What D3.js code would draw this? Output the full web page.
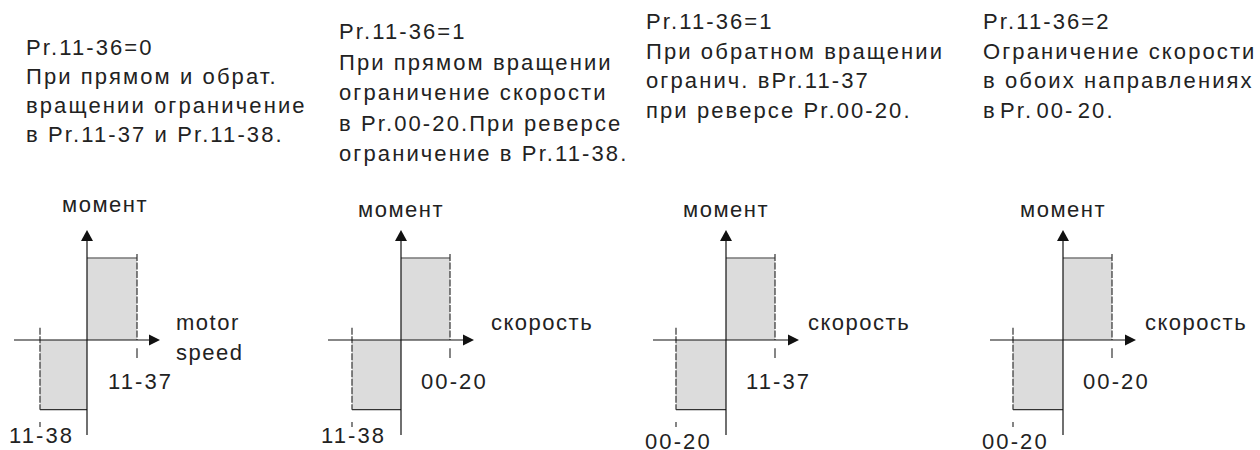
<!DOCTYPE html>
<html>
<head>
<meta charset="utf-8">
<script src="https://cdn.jsdelivr.net/npm/d3@7"></script>
<style>
  body { margin: 0; background: #fff; }
  text { font-family: "Liberation Sans", Arial, sans-serif; fill: #222; }
</style>
</head>
<body>
<div id="chart"></div>
<script>
////////////////////////////////////////////////////////////////////////////////
// Data
////////////////////////////////////////////////////////////////////////////////
var panelText = [
  ["Pr.11-36=0", "При прямом и обрат.", "вращении ограничение", "в Pr.11-37 и Pr.11-38."],
  ["Pr.11-36=1", "При прямом вращении", "ограничение скорости", "в Pr.00-20.При реверсе", "ограничение в Pr.11-38."],
  ["Pr.11-36=1", "При обратном вращении", "огранич. вPr.11-37", "при реверсе Pr.00-20."],
  ["Pr.11-36=2", "Ограничение скорости", "в обоих направлениях", "в Pr. 00- 20."]
];
var yTitles = ["момент", "момент", "момент", "момент"];
var xTitles = [["motor", "speed"], ["скорость"], ["скорость"], ["скорость"]];
var fwdLabels = ["11-37", "00-20", "11-37", "00-20"];
var revLabels = ["11-38", "11-38", "00-20", "00-20"];
// speed limits (forward / reverse) and torque limits, relative units
var fwdSpeed = [1.0, 0.98, 0.98, 0.98];
var revSpeed = [-0.94, -0.98, -1.0, -1.0];
var posTorque = [1.0, 1.0, 1.0, 1.0];
var negTorque = [-0.85, -0.85, -0.85, -0.85];

////////////////////////////////////////////////////////////////////////////////
// Layout
////////////////////////////////////////////////////////////////////////////////
var W = 1260, H = 450;
var originX = [87, 401, 726, 1063];   // y-axis position of each panel
var originY = 340;                     // x-axis position
var textX = [26, 339, 646, 983];
var textTop = [55, 39, 29, 29];
var lineGap = [29, 30.5, 29.5, 29.5];
var yTitleDx = [18, 0, 0, 0];
var yTitleY = [212, 217, 217, 217];
var xTitleDx = [89, 90, 82, 82];
var revLabelY = [443, 443, 449, 449];

var svg = d3.select("#chart").append("svg")
    .attr("width", W)
    .attr("height", H);

// one scale pair, every panel uses its own origin
var x = d3.scaleLinear().domain([-1, 1]).range([-50, 50]);
var y = d3.scaleLinear().domain([-1, 1]).range([82, -82]);

var fontSize = 22, spacing = 2.1;

panelText.forEach(function (lines, i) {

  // description text
  var t = svg.append("text")
      .attr("font-size", fontSize)
      .attr("letter-spacing", spacing);
  lines.forEach(function (s, k) {
    t.append("tspan")
      .attr("x", textX[i])
      .attr("y", textTop[i] + k * lineGap[i])
      .style("word-spacing", s.indexOf("00- ") >= 0 ? "-5px" : null)
      .text(s);
  });

  var g = svg.append("g")
      .attr("transform", "translate(" + originX[i] + "," + originY + ")");

  // shaded limit areas
  g.append("rect")
    .attr("x", x(0))
    .attr("y", y(posTorque[i]))
    .attr("width", x(fwdSpeed[i]) - x(0))
    .attr("height", y(0) - y(posTorque[i]))
    .attr("fill", "#dcdcdc");
  g.append("rect")
    .attr("x", x(revSpeed[i]))
    .attr("y", y(0))
    .attr("width", x(0) - x(revSpeed[i]))
    .attr("height", y(negTorque[i]) - y(0))
    .attr("fill", "#dcdcdc");

  // top edge of the upper area, bottom edge of the lower one
  g.append("line")
    .attr("x1", x(0)).attr("x2", x(fwdSpeed[i]))
    .attr("y1", y(posTorque[i])).attr("y2", y(posTorque[i]))
    .attr("stroke", "#777").attr("stroke-width", 1.5);
  g.append("line")
    .attr("x1", x(revSpeed[i])).attr("x2", x(0))
    .attr("y1", y(negTorque[i])).attr("y2", y(negTorque[i]))
    .attr("stroke", "#333").attr("stroke-width", 1.2);

  // limit lines (dashed) with the little marks past the axis
  var dash = "7,1.5";
  g.append("line")
    .attr("x1", x(fwdSpeed[i])).attr("x2", x(fwdSpeed[i]))
    .attr("y1", y(posTorque[i] * 1.05)).attr("y2", y(0))
    .attr("stroke", "#333").attr("stroke-width", 1.2)
    .attr("stroke-dasharray", dash);
  g.append("line")
    .attr("x1", x(fwdSpeed[i])).attr("x2", x(fwdSpeed[i]))
    .attr("y1", y(-0.1)).attr("y2", y(-0.22))
    .attr("stroke", "#333").attr("stroke-width", 1.2);
  g.append("line")
    .attr("x1", x(revSpeed[i])).attr("x2", x(revSpeed[i]))
    .attr("y1", y(0.15)).attr("y2", y(negTorque[i]))
    .attr("stroke", "#333").attr("stroke-width", 1.2)
    .attr("stroke-dasharray", dash);
  g.append("line")
    .attr("x1", x(revSpeed[i])).attr("x2", x(revSpeed[i]))
    .attr("y1", y(-1.0)).attr("y2", y(-1.06))
    .attr("stroke", "#333").attr("stroke-width", 1.2);

  // axes
  var xMin = x(-1.46), xMax = x(1.46);
  var yTop = y(1.34), yBot = y(-1.16);
  g.append("line")
    .attr("x1", xMin).attr("x2", xMax - 8)
    .attr("y1", 0).attr("y2", 0)
    .attr("stroke", "#111").attr("stroke-width", 1.2);
  g.append("line")
    .attr("x1", 0).attr("x2", 0)
    .attr("y1", yTop + 8).attr("y2", yBot)
    .attr("stroke", "#111").attr("stroke-width", 1.2);
  g.append("path")
    .attr("d", "M" + xMax + ",0L" + (xMax - 11) + ",-5.5L" + (xMax - 11) + ",5.5Z")
    .attr("fill", "#111");
  g.append("path")
    .attr("d", "M0," + yTop + "L-6," + (yTop + 11) + "L6," + (yTop + 11) + "Z")
    .attr("fill", "#111");

  // axis titles
  svg.append("text")
    .attr("x", originX[i] + yTitleDx[i])
    .attr("y", yTitleY[i])
    .attr("text-anchor", "middle")
    .attr("font-size", fontSize)
    .attr("letter-spacing", 1.5)
    .text(yTitles[i]);
  xTitles[i].forEach(function (s, k) {
    svg.append("text")
      .attr("x", originX[i] + xTitleDx[i])
      .attr("y", 330 + k * 30)
      .attr("font-size", fontSize)
      .attr("letter-spacing", 1.5)
      .text(s);
  });

  // limit labels
  svg.append("text")
    .attr("x", originX[i] + x(fwdSpeed[i]) - 29)
    .attr("y", 389)
    .attr("font-size", fontSize)
    .attr("letter-spacing", spacing)
    .text(fwdLabels[i]);
  svg.append("text")
    .attr("x", originX[i] + x(revSpeed[i]) - 31)
    .attr("y", revLabelY[i])
    .attr("font-size", fontSize)
    .attr("letter-spacing", spacing)
    .text(revLabels[i]);
});
</script>
</body>
</html>
